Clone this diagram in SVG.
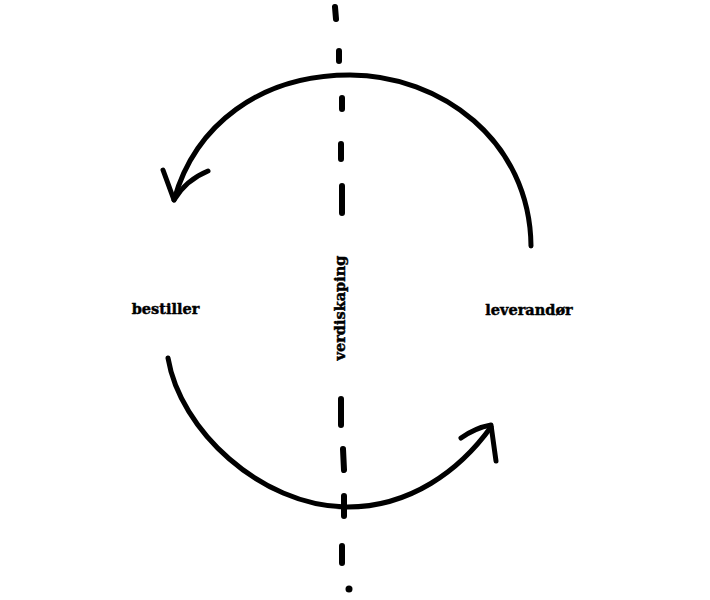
<svg xmlns="http://www.w3.org/2000/svg" width="710" height="600" viewBox="0 0 710 600">
<style>
.arc{fill:none;stroke:#000;stroke-width:5;stroke-linecap:round;stroke-linejoin:round}
.dash{fill:none;stroke:#000;stroke-width:6;stroke-linecap:round}
.lbl{font-family:"DejaVu Serif","Liberation Serif",serif;font-weight:bold;font-size:14.5px;fill:#000;stroke:#000;stroke-width:0.45}
</style>
<rect width="710" height="600" fill="#fff"/>
<g id="divider">
<path class="dash" d="M335 7 L336 19 M339 51 L339 61 M342 98 L342 109 M341 144 L341 159 M342 186 L342 213 M341 399 L341 425 M343 449 L344 470 M344 496 L344 516 M342 546 L342 563"/>
<circle cx="349" cy="589" r="3.5" fill="#000"/>
</g>
<g id="connectors">
<path class="arc" d="M531 246 C530 140 440 75 350 75 C260 75 195 125 174 200"/>
<path class="arc" d="M163 170 L174 200 Q186 180 208 171"/>
<path class="arc" d="M168 358 C180 430 260 505 345 507 C410 508 460 470 491 427"/>
<path class="arc" d="M461 438 Q475 428 491 425 L496 461"/>
</g>
<g id="bestiller"><text class="lbl" x="165.5" y="314" text-anchor="middle">bestiller</text></g>
<g id="leverandor"><text class="lbl" x="529" y="315" text-anchor="middle">leverandør</text></g>
<g id="verdiskaping"><text class="lbl" transform="translate(345,308) rotate(-90)" text-anchor="middle">verdiskaping</text></g>
</svg>
